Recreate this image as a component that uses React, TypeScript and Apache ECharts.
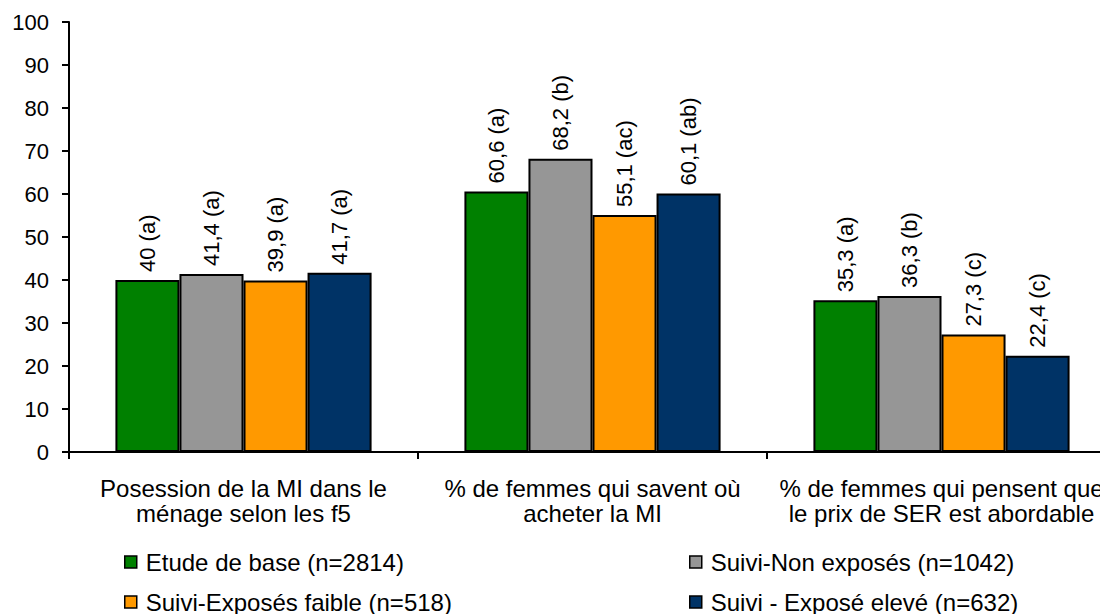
import React, { useEffect, useRef } from "react";
import * as echarts from "echarts";

const categories = [
  "Posession de la MI dans le\nménage selon les f5",
  "% de femmes qui savent où\nacheter la MI",
  "% de femmes qui pensent que\nle prix de SER est abordable",
];
const seriesNames = [
  "Etude de base (n=2814)",
  "Suivi-Non exposés (n=1042)",
  "Suivi-Exposés faible (n=518)",
  "Suivi - Exposé elevé (n=632)",
];
const colors = ["#008000", "#969696", "#FF9900", "#003366"];
const etudeBase = [40, 60.6, 35.3];
const nonExposes = [41.4, 68.2, 36.3];
const exposesFaible = [39.9, 55.1, 27.3];
const exposeEleve = [41.7, 60.1, 22.4];
const etudeBaseLetters = ["a", "a", "a"];
const nonExposesLetters = ["a", "b", "b"];
const exposesFaibleLetters = ["a", "ac", "c"];
const exposeEleveLetters = ["a", "ab", "c"];
const yTicks = { min: 0, max: 100, interval: 10 };

const FONT = "'Liberation Sans', Arial, sans-serif";

export default function App() {
  const ref = useRef<HTMLDivElement>(null);
  useEffect(() => {
    document.body.style.margin = "0";
    const chart = echarts.init(ref.current!, null, { renderer: "svg" });
    const values = [etudeBase, nonExposes, exposesFaible, exposeEleve];
    const letters = [etudeBaseLetters, nonExposesLetters, exposesFaibleLetters, exposeEleveLetters];
    const fmt = (v: number) => String(v).replace(".", ",");
    const series = values.map((vals, i) => ({
      name: seriesNames[i],
      type: "bar",
      data: vals,
      barGap: "0%",
      barCategoryGap: "26.6%",
      itemStyle: { color: colors[i], borderColor: "#000", borderWidth: 2 },
      label: {
        show: true,
        position: "top",
        rotate: 90,
        align: "left",
        verticalAlign: "middle",
        distance: 8,
        fontFamily: FONT,
        fontSize: 22,
        color: "#000",
        formatter: (p: any) => `${fmt(p.value)} (${letters[i][p.dataIndex]})`,
      },
    }));
    const legendPos = [
      { left: 124, top: 550 },
      { left: 689, top: 550 },
      { left: 124, top: 590 },
      { left: 689, top: 590 },
    ];
    const legend = seriesNames.map((n, i) => ({
      data: [n],
      left: legendPos[i].left,
      top: legendPos[i].top,
      icon: "rect",
      itemWidth: 12,
      itemHeight: 12,
      itemGap: 0,
      padding: 0,
      selectedMode: false,
      itemStyle: { borderColor: "#000", borderWidth: 1.5 },
      textStyle: { fontFamily: FONT, fontSize: 24, color: "#000", padding: [0, 0, 0, 4] },
    }));
    chart.setOption({
      animation: false,
      color: colors,
      grid: {
        left: 69,
        width: 1047,
        top: 22,
        bottom: 162,
        containLabel: false,
        outerBoundsMode: "none",
      },
      legend,
      xAxis: {
        type: "category",
        data: categories,
        axisLine: { lineStyle: { color: "#000", width: 2 } },
        axisTick: { show: true, length: 7, lineStyle: { color: "#000", width: 2 } },
        axisLabel: {
          fontFamily: FONT,
          fontSize: 24,
          color: "#000",
          lineHeight: 25,
          margin: 24,
          interval: 0,
          hideOverlap: false,
        },
      },
      yAxis: {
        type: "value",
        min: yTicks.min,
        max: yTicks.max,
        interval: yTicks.interval,
        axisLine: { show: true, lineStyle: { color: "#000", width: 2 } },
        axisTick: { show: true, length: 7, lineStyle: { color: "#000", width: 2 } },
        splitLine: { show: false },
        axisLabel: { fontFamily: FONT, fontSize: 22, color: "#000", margin: 20 },
      },
      series,
    });
    return () => chart.dispose();
  }, []);
  return <div ref={ref} style={{ width: 1100, height: 614 }} />;
}
